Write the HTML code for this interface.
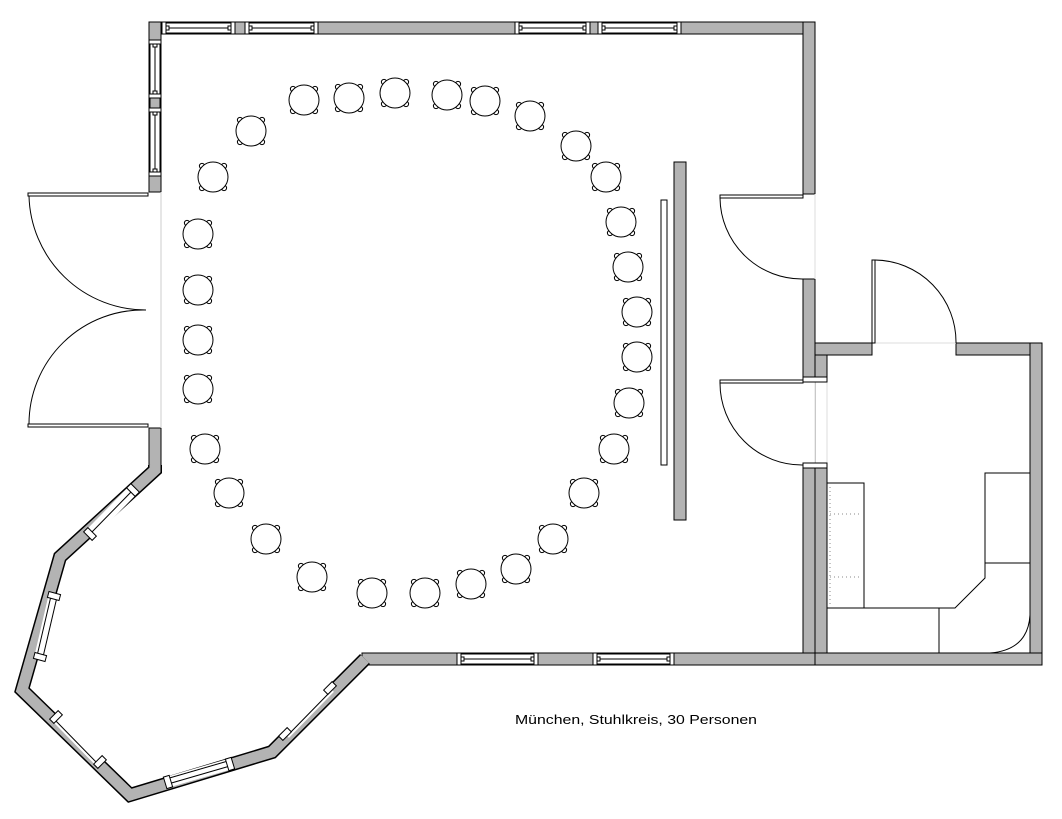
<!DOCTYPE html>
<html><head><meta charset="utf-8"><style>html,body{margin:0;padding:0;background:#fff}svg{display:block}</style></head>
<body>
<svg width="1062" height="819" viewBox="0 0 1062 819" xmlns="http://www.w3.org/2000/svg">
<defs>
<g id="c" fill="#fff" stroke="#000" stroke-width="1">
<circle cx="-11" cy="-11" r="2.6"/><circle cx="11" cy="-11" r="2.6"/><circle cx="-11" cy="11" r="2.6"/><circle cx="11" cy="11" r="2.6"/>
<circle cx="0" cy="0" r="15"/>
</g>
<g id="jh" fill="#fff" stroke="#000" stroke-width="1"><rect x="-2" y="-6" width="4" height="12"/><rect x="2" y="-2" width="3" height="4"/></g>
</defs>
<rect width="1062" height="819" fill="#fff"/>
<g stroke="#000" stroke-width="1" fill="#b3b3b3">
<!-- top wall -->
<rect x="149" y="22" width="666" height="12"/>
<!-- left wall top -->
<rect x="149" y="22" width="12" height="170"/>
<!-- left wall lower -->
<rect x="149" y="428" width="12" height="42"/>
<!-- right wall -->
<rect x="803" y="22" width="12" height="172"/>
<rect x="803" y="279" width="12" height="100"/>
<rect x="803" y="465" width="12" height="200"/>
<!-- bottom wall -->
<rect x="362" y="653" width="453" height="12"/>
<!-- kitchen walls -->
<rect x="815" y="343" width="12" height="322"/>
<rect x="815" y="343" width="57" height="12"/>
<rect x="956" y="343" width="86" height="12"/>
<rect x="1030" y="343" width="12" height="322"/>
<rect x="815" y="653" width="227" height="12"/>
<!-- partition -->
<rect x="674" y="162" width="12" height="358"/>
</g>
<!-- clean kitchen/main joins -->
<rect x="816" y="356" width="10" height="296" fill="#b3b3b3"/>
<rect x="816" y="380" width="11" height="85" fill="#fff"/>
<rect x="803.5" y="380" width="12" height="85" fill="#fff"/>
<line x1="815" y1="380" x2="815" y2="465" stroke="#ddd"/>
<line x1="827" y1="380" x2="827" y2="465" stroke="#ddd"/>
<rect x="803" y="377" width="24" height="5" fill="#fff" stroke="#000" stroke-width="1"/>
<rect x="803" y="463" width="24" height="5" fill="#fff" stroke="#000" stroke-width="1"/>
<line x1="815" y1="194" x2="815" y2="279" stroke="#ddd"/>
<line x1="873" y1="343" x2="956" y2="343" stroke="#ddd"/>
<rect x="661" y="200" width="6" height="265" fill="#fff" stroke="#000"/>
<!-- top windows -->
<g stroke="#000" stroke-width="1">
<rect x="161" y="23" width="156" height="10" fill="#fff"/>
<line x1="161" y1="28" x2="317" y2="28"/>
<rect x="235" y="22" width="10" height="12" fill="#b3b3b3"/>
<rect x="515" y="23" width="165" height="10" fill="#fff"/>
<line x1="515" y1="28" x2="680" y2="28"/>
<rect x="590" y="22" width="8" height="12" fill="#b3b3b3"/>
<rect x="150" y="40" width="10" height="136" fill="#fff"/>
<line x1="155" y1="40" x2="155" y2="176"/>
<rect x="150" y="98" width="10" height="10" fill="#b3b3b3"/>
<rect x="457" y="654" width="80" height="10" fill="#fff"/>
<line x1="457" y1="659" x2="537" y2="659"/>
<rect x="593" y="654" width="80" height="10" fill="#fff"/>
<line x1="593" y1="659" x2="673" y2="659"/>
</g>
<g>
<use href="#jh" transform="translate(164,28)"/><use href="#jh" transform="translate(233,28) rotate(180)"/><use href="#jh" transform="translate(247,28)"/><use href="#jh" transform="translate(316,28) rotate(180)"/>
<use href="#jh" transform="translate(517,28)"/><use href="#jh" transform="translate(588,28) rotate(180)"/><use href="#jh" transform="translate(600,28)"/><use href="#jh" transform="translate(679,28) rotate(180)"/>
<use href="#jh" transform="translate(155,42) rotate(90)"/><use href="#jh" transform="translate(155,96) rotate(-90)"/><use href="#jh" transform="translate(155,110) rotate(90)"/><use href="#jh" transform="translate(155,174) rotate(-90)"/>
<use href="#jh" transform="translate(459,659)"/><use href="#jh" transform="translate(536,659) rotate(180)"/><use href="#jh" transform="translate(595,659)"/><use href="#jh" transform="translate(672,659) rotate(180)"/>
</g>
<!-- left double doors -->
<line x1="161" y1="192" x2="161" y2="428" stroke="#ccc"/>
<g fill="none" stroke="#000" stroke-width="1">
<rect x="28" y="193" width="120" height="3" fill="#fff"/>
<rect x="28" y="424" width="120" height="3" fill="#fff"/>
<path d="M29,196 A117,117 0 0 0 146,310"/>
<path d="M29,424 A114,114 0 0 1 146,310"/>
<!-- right doors -->
<rect x="720" y="195" width="83" height="3" fill="#fff"/>
<path d="M720,198 A82,82 0 0 0 803,279"/>
<rect x="720" y="380" width="83" height="3" fill="#fff"/>
<path d="M720,383 A82,82 0 0 0 803,465"/>
<!-- kitchen door -->
<rect x="872" y="260" width="3" height="83" fill="#fff"/>
<path d="M875,260 A82,82 0 0 1 956,343"/>
</g>
<!-- bay walls -->
<g fill="none" stroke-linejoin="miter">
<polyline points="155,465 155,470 60,557 22,690 130,795 272,752 365,659" stroke="#000" stroke-width="14"/>
<polyline points="155,465 155,470 60,557 22,690 130,795 272,752 365,659" stroke="#b3b3b3" stroke-width="11"/>
</g>
<g stroke="#000" stroke-width="1" fill="#fff">
<line x1="133" y1="490" x2="90" y2="534" stroke="#fff" stroke-width="11"/>
<line x1="133" y1="490" x2="90" y2="534"/>
<line x1="54" y1="596" x2="40" y2="656" stroke="#fff" stroke-width="11"/>
<line x1="51" y1="596" x2="37" y2="656"/><line x1="57" y1="597" x2="43" y2="657"/>
<line x1="56" y1="717" x2="100" y2="762" stroke="#fff" stroke-width="11"/>
<line x1="54" y1="719" x2="98" y2="764"/>
<line x1="168" y1="782" x2="230" y2="764" stroke="#fff" stroke-width="11"/>
<line x1="168" y1="784" x2="230" y2="766"/><line x1="166" y1="779" x2="228" y2="761"/>
<line x1="285" y1="734" x2="330" y2="688" stroke="#fff" stroke-width="11"/>
<line x1="287" y1="736" x2="332" y2="690"/>
<rect x="-3" y="-6" width="6" height="12" transform="translate(133,490) rotate(-45)"/>
<rect x="-3" y="-6" width="6" height="12" transform="translate(90,534) rotate(-45)"/>
<rect x="-3" y="-6" width="6" height="12" transform="translate(54,596) rotate(-75)"/>
<rect x="-3" y="-6" width="6" height="12" transform="translate(40,657) rotate(-75)"/>
<rect x="-3" y="-6" width="6" height="12" transform="translate(56,717) rotate(45)"/>
<rect x="-3" y="-6" width="6" height="12" transform="translate(100,762) rotate(45)"/>
<rect x="-3" y="-6" width="6" height="12" transform="translate(168,782) rotate(-17)"/>
<rect x="-3" y="-6" width="6" height="12" transform="translate(230,764) rotate(-17)"/>
<rect x="-3" y="-6" width="6" height="12" transform="translate(285,734) rotate(45)"/>
<rect x="-3" y="-6" width="6" height="12" transform="translate(330,688) rotate(45)"/>
</g>
<!-- kitchen furniture -->
<g fill="none" stroke="#000" stroke-width="1">
<rect x="827" y="483" width="37" height="125"/>
<path d="M827,608 H955 L985,578 V473 H1030"/>
<line x1="985" y1="563" x2="1030" y2="563"/>
<line x1="939" y1="608" x2="939" y2="653"/>
<path d="M1030,615 Q1028,650 990,653"/>
</g>
<g stroke="#888" stroke-width="1" stroke-dasharray="1,3" fill="none">
<line x1="830" y1="487" x2="830" y2="606"/>
<line x1="830" y1="514" x2="861" y2="514"/>
<line x1="830" y1="577" x2="861" y2="577"/>
</g>
<!-- chairs -->
<use href="#c" x="304" y="100"/><use href="#c" x="349" y="98"/><use href="#c" x="395" y="93"/><use href="#c" x="447" y="95"/><use href="#c" x="485" y="101"/>
<use href="#c" x="530" y="116"/><use href="#c" x="576" y="146"/><use href="#c" x="606" y="177"/><use href="#c" x="621" y="222"/><use href="#c" x="628" y="267"/>
<use href="#c" x="637" y="312"/><use href="#c" x="637" y="357"/><use href="#c" x="629" y="403"/><use href="#c" x="614" y="449"/><use href="#c" x="584" y="493"/>
<use href="#c" x="553" y="539"/><use href="#c" x="516" y="569"/><use href="#c" x="471" y="584"/><use href="#c" x="425" y="593"/><use href="#c" x="372" y="593"/>
<use href="#c" x="312" y="577"/><use href="#c" x="266" y="539"/><use href="#c" x="229" y="493"/><use href="#c" x="205" y="449"/><use href="#c" x="198" y="389"/>
<use href="#c" x="198" y="340"/><use href="#c" x="198" y="290"/><use href="#c" x="198" y="234"/><use href="#c" x="213" y="177"/><use href="#c" x="251" y="131"/>
<text x="515" y="724" font-family="Liberation Sans, Arial, sans-serif" font-size="13" fill="#000" textLength="242" lengthAdjust="spacingAndGlyphs">München, Stuhlkreis, 30 Personen</text>
</svg>
</body></html>
